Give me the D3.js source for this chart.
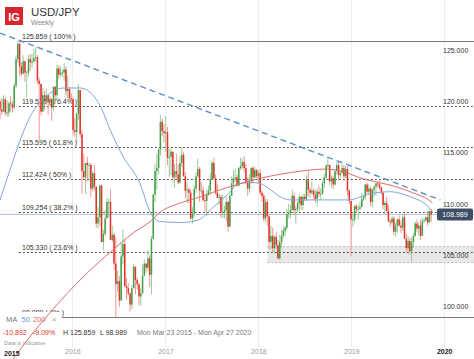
<!DOCTYPE html>
<html><head><meta charset="utf-8">
<script src="https://cdn.jsdelivr.net/npm/d3@7"></script>
<style>
html,body{margin:0;padding:0;background:#fff;}
svg{display:block;font-family:"Liberation Sans",Arial,sans-serif;}
</style></head>
<body><svg id="c" width="474" height="359"></svg>
<script>
// ---- DATA (weekly OHLC, weeks starting Mon 23 Mar 2015) ----
const firstWeek = "2015-03-23";
const ohlc2015 = [
[120.0,120.2,118.3,119.2],[119.2,120.3,118.7,119.0],[119.0,120.6,119.0,120.2],[120.2,120.4,118.6,118.9],
[118.9,120.1,118.5,118.9],[118.9,120.0,118.5,119.8],[119.8,120.5,119.0,119.7],[119.7,120.0,118.9,119.4],
[119.4,121.8,119.2,121.5],[121.5,124.5,121.3,124.1],[124.1,125.859,123.8,125.6],[125.6,125.7,122.5,123.4],
[123.4,123.8,122.4,122.7],[122.7,124.5,122.6,123.9],[123.9,123.9,121.9,122.8],[122.8,123.0,120.4,122.8],
[122.8,124.5,122.4,124.1],[124.1,124.6,123.0,123.8],[123.8,124.6,123.3,123.9],[123.9,125.1,123.8,124.2],
[124.2,125.3,123.8,124.3],[124.3,124.5,121.7,122.0],[122.0,122.3,116.2,121.7],[121.7,121.7,118.6,119.0],
[119.0,121.3,119.0,120.6],[120.6,121.0,119.2,120.0],[120.0,121.2,119.7,120.6],[120.6,120.6,118.7,119.9],
[119.9,120.5,119.6,120.2],[120.2,120.3,118.1,119.4],[119.4,121.5,119.1,121.4],[121.4,121.5,120.0,120.6],
[120.6,123.6,120.2,123.2],[123.2,123.5,122.2,122.6],[122.6,123.4,122.4,122.8],[122.8,123.1,122.4,122.8],
[122.8,123.7,122.0,123.1],[123.1,123.4,120.6,121.0],[121.0,122.5,120.3,121.2],[121.2,121.4,120.1,120.3],
[120.3,120.8,120.0,120.2]];
const ohlc2016 = [
[120.2,120.4,116.7,117.2],[117.2,118.4,116.5,117.0],[117.0,118.9,116.0,118.8],[118.8,121.7,118.2,121.1],
[121.1,121.1,116.5,116.8],[116.8,117.2,111.0,113.2],[113.2,114.9,112.5,112.6],[112.6,114.0,111.0,114.0],
[114.0,114.6,112.2,113.8],[113.8,114.0,112.2,113.8],[113.8,114.0,110.7,111.5],[111.5,113.2,111.2,113.0],
[113.0,113.8,111.3,111.7],[111.7,111.7,107.7,108.1],[108.1,109.7,107.6,108.7],[108.7,111.9,107.9,111.8],
[111.8,111.9,106.3,106.3],[106.3,107.5,105.5,107.1],[107.1,109.4,106.9,108.6],[108.6,110.6,108.6,110.2],
[110.2,110.5,108.7,110.2],[110.2,111.4,106.5,106.5],[106.5,107.9,106.3,107.0],[107.0,107.2,103.6,104.2],
[104.2,106.8,98.989,102.2],[102.2,103.5,101.4,102.5],[102.5,103.0,99.99,100.6],[100.6,106.3,100.6,104.9],
[104.9,107.5,104.1,106.1],[106.1,106.5,101.9,102.0],[102.0,102.8,100.7,101.8],[101.8,102.3,101.1,101.3],
[101.3,101.4,99.55,100.2],[100.2,102.1,99.8,101.8],[101.8,104.2,101.8,103.9],[103.9,103.9,101.2,102.6],
[102.6,102.8,101.7,102.2],[102.2,102.3,100.1,101.0],[101.0,101.8,100.1,101.3],[101.3,104.1,101.3,103.0],
[103.0,104.6,103.0,104.2],[104.2,104.2,103.3,103.8],[103.8,105.5,103.5,104.7],[104.7,105.0,101.9,103.1],
[103.1,106.9,101.2,106.6],[106.6,111.0,106.6,110.9],[110.9,113.9,110.2,113.2],[113.2,114.8,111.4,113.5],
[113.5,115.4,112.9,115.3],[115.3,118.66,114.7,118.0],[118.0,118.3,116.6,117.1],[117.1,117.8,116.0,116.9]];
const ohlc2017 = [
[116.9,118.6,115.1,117.0],[117.0,117.5,113.8,114.5],[114.5,115.4,112.6,114.6],[114.6,115.4,112.8,115.1],
[115.1,115.1,112.1,112.6],[112.6,113.9,111.6,113.2],[113.2,114.9,112.5,112.9],[112.9,113.9,111.9,112.1],
[112.1,114.7,112.0,114.0],[114.0,115.5,113.6,114.8],[114.8,115.1,112.7,112.7],[112.7,113.1,110.6,111.3],
[111.3,112.2,110.1,111.4],[111.4,111.6,110.1,111.1],[111.1,111.4,108.5,108.6],[108.6,109.7,108.1,109.1],
[109.1,111.8,108.7,111.5],[111.5,113.1,111.1,112.7],[112.7,114.4,112.6,113.4],[113.4,113.6,110.2,111.3],
[111.3,112.1,110.9,111.3],[111.3,111.7,110.2,110.4],[110.4,110.8,109.1,110.3],[110.3,111.4,108.8,110.9],
[110.9,111.8,110.8,111.3],[111.3,113.0,110.9,112.4],[112.4,114.2,112.4,114.0],[114.0,114.5,112.4,112.5],
[112.5,112.9,110.9,111.1],[111.1,111.9,110.6,110.6],[110.6,111.0,109.9,110.7],[110.7,110.9,108.7,109.2],
[109.2,110.9,108.6,109.2],[109.2,109.8,108.6,109.4],[109.4,110.7,108.3,110.2],[110.2,110.3,107.3,107.8],
[107.8,111.0,107.8,110.8],[110.8,112.7,110.8,112.0],[112.0,113.3,111.5,112.5],[112.5,113.4,112.2,112.6],
[112.6,112.9,111.7,111.8],[111.8,113.6,111.7,113.5],[113.5,114.5,113.3,113.7],[113.7,114.4,113.4,114.1],
[114.1,114.7,113.1,113.5],[113.5,113.9,111.9,112.1],[112.1,112.6,110.8,111.5],[111.5,112.9,111.1,112.2],
[112.2,113.6,112.0,113.5],[113.5,113.7,112.0,112.6],[112.6,113.6,112.5,113.3],[113.3,113.4,112.5,112.7]];
const ohlc2018 = [
[112.7,113.3,112.0,113.0],[113.0,113.4,110.9,111.1],[111.1,111.3,110.2,110.8],[110.8,111.0,108.3,108.6],
[108.6,110.5,108.3,110.2],[110.2,110.5,107.9,108.8],[108.8,108.9,105.6,106.3],[106.3,107.9,105.6,106.9],
[106.9,107.7,105.3,105.7],[105.7,107.0,105.2,106.8],[106.8,107.3,105.6,106.0],[106.0,106.5,104.6,104.7],
[104.7,107.0,104.6,106.3],[106.3,107.5,105.7,106.9],[106.9,107.8,106.6,107.4],[107.4,107.9,106.9,107.7],
[107.7,109.5,107.5,109.0],[109.0,110.0,108.6,109.1],[109.1,109.9,108.6,109.4],[109.4,111.4,109.4,110.8],
[110.8,111.1,108.9,109.4],[109.4,109.8,108.1,109.5],[109.5,110.3,109.2,110.1],[110.1,110.9,109.3,110.7],
[110.7,110.8,109.4,109.9],[109.9,111.0,109.4,110.7],[110.7,111.0,110.3,110.5],[110.5,112.8,110.3,112.4],
[112.4,113.2,110.8,111.4],[111.4,111.6,110.6,111.1],[111.1,112.2,110.9,111.3],[111.3,111.5,110.4,110.9],
[110.9,111.4,110.1,110.5],[110.5,111.5,109.8,111.2],[111.2,111.8,110.7,111.0],[111.0,111.5,110.4,111.0],
[111.0,112.2,110.9,112.0],[112.0,112.9,111.6,112.6],[112.6,113.9,112.4,113.7],[113.7,114.55,113.5,113.8],
[113.8,113.8,111.9,112.2],[112.2,112.8,111.6,112.5],[112.5,112.7,111.4,111.9],[111.9,113.4,111.8,113.2],
[113.2,114.1,112.9,113.8],[113.8,114.2,112.3,112.8],[112.8,113.2,112.3,113.0],[113.0,113.9,113.0,113.5],
[113.5,113.8,112.2,112.7],[112.7,113.7,112.5,113.4],[113.4,113.7,110.8,111.3],[111.3,111.5,110.0,110.3]];
const ohlc2019 = [
[110.3,110.3,104.9,108.5],[108.5,109.1,107.8,108.5],[108.5,109.9,108.2,109.8],[109.8,110.0,109.1,109.5],
[109.5,109.9,108.5,109.5],[109.5,110.2,109.5,109.7],[109.7,111.1,109.7,110.5],[110.5,110.9,110.3,110.7],
[110.7,111.9,110.4,111.9],[111.9,112.1,111.0,111.2],[111.2,111.9,110.9,111.5],[111.5,111.7,109.8,110.2],
[110.2,111.5,109.7,111.4],[111.4,111.8,110.8,111.7],[111.7,112.1,110.8,112.0],[112.0,112.2,111.6,111.9],
[111.9,112.4,111.4,111.6],[111.6,111.7,110.9,111.1],[111.1,111.2,109.5,109.9],[109.9,110.3,109.0,110.1],
[110.1,110.7,109.3,109.3],[109.3,109.9,108.3,108.3],[108.3,108.5,107.8,108.2],[108.2,108.8,108.0,108.6],
[108.6,108.8,107.0,107.3],[107.3,108.2,106.8,107.9],[107.9,108.6,107.2,108.5],[108.5,108.9,107.8,107.9],
[107.9,108.4,107.2,107.7],[107.7,108.9,107.4,108.7],[108.7,109.3,106.6,106.6],[106.6,107.1,105.3,105.7],
[105.7,106.9,105.1,106.4],[106.4,106.7,105.1,105.4],[105.4,106.7,104.45,106.3],[106.3,107.2,105.7,106.9],
[106.9,108.3,106.8,108.1],[108.1,108.5,107.3,107.6],[107.6,108.2,106.9,107.9],[107.9,108.5,106.5,106.9],
[106.9,108.6,106.9,108.3],[108.3,108.7,108.2,108.4],[108.4,108.8,108.3,108.7],[108.7,109.3,107.9,108.2],
[108.2,109.5,108.2,109.3],[109.3,109.5,108.3,108.989]];

const ma50Dates  = ["2015-03-23","2015-05-01","2015-06-10","2015-07-19","2015-08-27","2015-10-06","2015-11-26","2016-02-01","2016-04-19","2016-05-29","2016-07-19","2016-09-23","2016-11-02","2016-12-11","2017-02-28","2017-05-06","2017-07-08","2017-09-01","2017-10-10","2017-11-30","2018-01-08","2018-02-17","2018-03-28","2018-05-06","2018-09-01","2018-12-20","2019-03-17","2019-06-03","2019-08-21","2019-10-19","2019-11-16"];
const ma50Values = [110.4,113.3,116.2,118.5,119.9,120.8,121.3,121.3,119.6,117.2,114.6,112.0,109.2,108.3,108.2,108.4,109.7,110.9,111.9,112.1,112.0,111.4,110.7,110.4,110.4,110.4,111.0,111.2,110.7,110.0,109.3];
const ma200Dates  = ["2015-03-23","2015-05-13","2015-07-19","2015-09-28","2015-12-12","2016-02-29","2016-05-29","2016-08-28","2016-11-02","2016-12-11","2017-02-28","2017-05-18","2017-08-05","2017-10-24","2018-01-08","2018-03-28","2018-06-15","2018-09-21","2018-12-09","2019-01-29","2019-04-18","2019-06-24","2019-08-30","2019-11-01","2019-11-16"];
const ma200Values = [93.4,94.9,97.1,99.2,101.3,103.3,105.3,107.2,108.3,109.2,110.1,110.7,111.4,112.0,112.5,112.9,113.2,113.4,113.1,112.6,112.1,111.7,111.1,110.4,110.1];

const trendDates  = ["2015-03-23","2019-12-17"];
const trendValues = [126.65,110.4];

const fibStart  = "2015-06-05";
const fibLevels = [125.859,119.518,115.595,112.424,109.254,105.330,98.989];
const fibPcts   = ["100%","76.4%","61.8%","50%","38.2%","23.6%","0%"];

const zoneStart = "2018-02-05";
const zoneRange = [104.3,105.85];

const priceTicks = [100,105,110,115,120,125];
const yearTicks  = ["2016","2017","2018","2019","2020"];
const lastPrice  = 108.989;
const viewRange  = ["2015-03-23","2020-04-27"];

// ---- CHART ----
const W = 474, H = 359;
const svg = d3.select("#c");
const pd = d3.timeParse("%Y-%m-%d");
const x = d3.scaleTime().domain(viewRange.map(pd)).range([0, W]);
const y = d3.scaleLinear().domain([100,125]).range([306.7, 50]);

const candles = [].concat(ohlc2015, ohlc2016, ohlc2017, ohlc2018, ohlc2019).map((r,i)=>({
  date: d3.timeDay.offset(pd(firstWeek), 7*i), o:r[0], h:r[1], l:r[2], c:r[3]
}));

// vertical year gridlines
svg.append("g").selectAll("line").data(yearTicks).join("line")
  .attr("x1", d=>Math.round(x(pd(d+"-01-01")))+0.5).attr("x2", d=>Math.round(x(pd(d+"-01-01")))+0.5)
  .attr("y1", 0).attr("y2", 347).attr("stroke", "#ececec").attr("stroke-width", 1);

// support zone
const zone = svg.append("g");
zone.append("rect").attr("x", x(pd(zoneStart))).attr("width", W - x(pd(zoneStart)))
  .attr("y", y(zoneRange[1])).attr("height", y(zoneRange[0]) - y(zoneRange[1]))
  .attr("fill", "#e8e8e8");
zone.selectAll("line").data(zoneRange).join("line")
  .attr("x1", x(pd(zoneStart))).attr("x2", W).attr("y1", d=>y(d)).attr("y2", d=>y(d))
  .attr("stroke", "#b5b5b5").attr("stroke-dasharray", "2,2");

// fib lines & labels
const fx = x(pd(fibStart));
const fib = svg.append("g");
fib.selectAll("line").data(fibLevels).join("line")
  .attr("x1", fx).attr("x2", W)
  .attr("y1", d=>Math.round(y(d))+0.5).attr("y2", d=>Math.round(y(d))+0.5)
  .attr("stroke", (d,i)=> (i===0||i===fibLevels.length-1) ? "#777" : "#555")
  .attr("stroke-width", 1)
  .attr("stroke-dasharray", (d,i)=> (i===0||i===fibLevels.length-1) ? null : "2,2");
fib.selectAll("text").data(fibLevels).join("text")
  .attr("x", 22).attr("y", d=>y(d)-1.8)
  .attr("font-size", 7).attr("fill", "#333")
  .text((d,i)=> `${d.toFixed(3)} ( ${fibPcts[i]} )`);

// current price line
svg.append("line").attr("x1", 0).attr("x2", W)
  .attr("y1", y(lastPrice)).attr("y2", y(lastPrice))
  .attr("stroke", "#b4bfd0").attr("stroke-width", 1);

// candles
const up = "#43a047", dn = "#e53228";
const cg = svg.append("g");
cg.selectAll("line").data(candles).join("line")
  .attr("x1", d=>x(d.date)).attr("x2", d=>x(d.date))
  .attr("y1", d=>y(d.h)).attr("y2", d=>y(d.l))
  .attr("stroke", d=> d.c>=d.o ? "#8cc58c" : "#f08a84").attr("stroke-width", 0.9);
cg.selectAll("rect").data(candles).join("rect")
  .attr("x", d=>x(d.date)-0.75).attr("width", 1.5)
  .attr("y", d=>y(Math.max(d.o,d.c)))
  .attr("height", d=>Math.max(0.8, Math.abs(y(d.o)-y(d.c))))
  .attr("fill", d=> d.c>=d.o ? up : dn);

// moving averages
const line = d3.line().x(d=>x(d[0])).y(d=>y(d[1])).curve(d3.curveMonotoneX);
svg.append("path").datum(ma50Dates.map((d,i)=>[pd(d), ma50Values[i]]))
  .attr("d", line).attr("fill","none").attr("stroke","#7fa7d3").attr("stroke-width",1);

// trendline
svg.append("path").datum(trendDates.map((d,i)=>[pd(d), trendValues[i]]))
  .attr("d", d3.line().x(d=>x(d[0])).y(d=>y(d[1])))
  .attr("fill","none").attr("stroke","#5b8fc9").attr("stroke-width",1.4).attr("stroke-dasharray","6,4");

// right price axis
const ax = svg.append("g").attr("transform", "translate(443,0)")
  .call(d3.axisRight(y).tickValues(priceTicks).tickSize(0).tickPadding(0).tickFormat(d3.format(".3f")));
ax.select(".domain").remove();
ax.selectAll("text").attr("font-size", 7).attr("fill", "#333").attr("font-family","Liberation Sans, Arial, sans-serif");

// current price box
svg.append("rect").attr("x", 437).attr("y", y(lastPrice)-6).attr("width", 36).attr("height", 12)
  .attr("rx", 2).attr("fill", "#3d4e66");
svg.append("text").attr("x", 455).attr("y", y(lastPrice)+2.5).attr("text-anchor","middle")
  .attr("font-size", 7).attr("fill", "#fff").text(lastPrice.toFixed(3));

// legend box (covers bottom-left)
svg.append("rect").attr("x", 0).attr("y", 312).attr("width", 62).attr("height", 14).attr("fill", "#fff");
const lg = svg.append("text").attr("x", 6).attr("y", 322).attr("font-size", 7.5);
lg.append("tspan").attr("fill", "#777").text("MA");
lg.append("tspan").attr("x", 21.5).attr("fill", "#5b9bd5").text("50");
lg.append("tspan").attr("x", 33).attr("fill", "#e06666").text("200");
lg.append("tspan").attr("x", 52).attr("fill", "#999").text("×");

// info row
const info = svg.append("g").attr("font-size", 7);
info.append("text").attr("x", 3).attr("y", 334.5).attr("fill", "#e0302a").text("-10.892");
info.append("text").attr("x", 33).attr("y", 334.5).attr("fill", "#e0302a").text("-9.09%");
info.append("text").attr("x", 63).attr("y", 334.5).attr("fill", "#333").text("H 125.859");
info.append("text").attr("x", 100).attr("y", 334.5).attr("fill", "#333").text("L 98.989");
info.append("text").attr("x", 137).attr("y", 334.5).attr("fill", "#777").text("Mon Mar 23 2015 - Mon Apr 27 2020");
info.append("text").attr("x", 4).attr("y", 345).attr("font-size", 5.5).attr("fill", "#999").text("Data is indicative");

// MA200 drawn on top (extends below plot)
svg.append("path").datum(ma200Dates.map((d,i)=>[pd(d), ma200Values[i]]))
  .attr("d", line).attr("fill","none").attr("stroke","#e06a6a").attr("stroke-width",1);

// year axis
const xa = svg.append("g").attr("transform", "translate(0,349)")
  .call(d3.axisBottom(x).tickValues(yearTicks.map(d=>pd(d+"-01-01"))).tickSize(0).tickPadding(0).tickFormat(d3.timeFormat("%Y")));
xa.select(".domain").remove();
xa.selectAll("text").attr("font-size", 7).attr("font-family","Liberation Sans, Arial, sans-serif")
  .attr("fill", d=> d.getFullYear()===2020 ? "#222" : "#999")
  .attr("font-weight", d=> d.getFullYear()===2020 ? "bold" : "normal");
svg.append("text").attr("x", 4).attr("y", 356).attr("font-size", 7).attr("font-weight","bold").attr("fill","#222").text("2015");

// header
svg.append("rect").attr("x", 5).attr("y", 7).attr("width", 18).attr("height", 18).attr("fill", "#d8262e");
svg.append("text").attr("x", 14).attr("y", 20.5).attr("text-anchor","middle").attr("font-size", 11)
  .attr("font-weight","bold").attr("fill","#fff").text("IG");
svg.append("text").attr("x", 31).attr("y", 15.5).attr("font-size", 11.5).attr("fill","#333").text("USD/JPY");
svg.append("text").attr("x", 31).attr("y", 25).attr("font-size", 7).attr("fill","#888").text("Weekly");
</script></body></html>
